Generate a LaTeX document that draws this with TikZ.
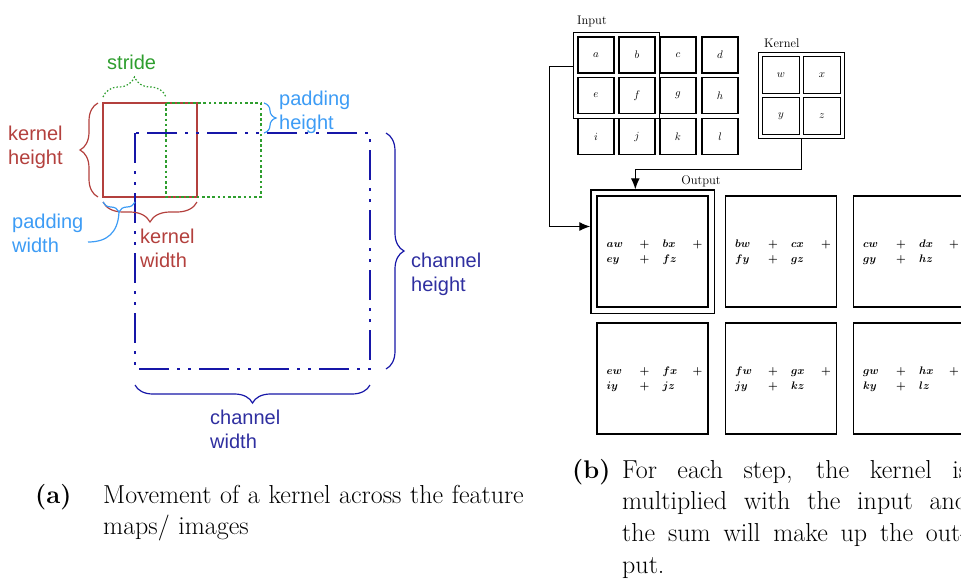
\documentclass[tikz,border=0pt]{standalone}
\usepackage{fontspec}
\newfontfamily\diagsans{Liberation Sans}
\usetikzlibrary{positioning,fit,arrows.meta,decorations.pathreplacing}

\definecolor{kred}{HTML}{B3403D}
\definecolor{sgreen}{HTML}{2E9E2E}
\definecolor{pblue}{HTML}{3D9CF5}
\definecolor{cblue}{HTML}{1717A8}
\definecolor{ctext}{HTML}{2F2FA0}

\tikzset{
  lbl/.style={font=\diagsans\fontsize{20}{24}\selectfont, align=left, inner sep=0pt, anchor=base west},
  brc/.style={decorate, decoration={brace, amplitude=#1}, line width=1.2pt},
  cell/.style={draw, line width=1.4pt, minimum size=36pt, inner sep=0pt, font=\fontsize{11}{12}\selectfont},
  kcell/.style={cell, minimum size=37pt},
  outbox/.style={draw, line width=1.2pt, minimum size=111pt, inner sep=0pt},
  sumtext/.style={font=\boldmath\fontsize{11}{15}\selectfont, inner sep=0pt, anchor=west},
  smalltitle/.style={font=\fontsize{12.5}{15}\selectfont, inner sep=0pt, anchor=base west},
  flow/.style={-{Latex[length=11pt,width=9pt]}, line width=1.2pt},
  capnum/.style={font=\bfseries\fontsize{25.5}{31.7}\selectfont, inner sep=0pt, anchor=base west},
  captext/.style={font=\fontsize{26}{31.7}\selectfont, inner sep=0pt, anchor=base west},
}

\begin{document}
\begin{tikzpicture}[x=1pt,y=-1pt]
    \useasboundingbox (0,0) rectangle (961,579);

    % (a) kernel moving over the channel
    \draw[kred, line width=2.6pt] (103,103) rectangle (197,197);
    \draw[sgreen, line width=2.6pt, dash pattern=on 2.6pt off 2.6pt] (166,103) rectangle (261,197);
    \draw[cblue, line width=2.8pt, dash pattern=on 30pt off 8pt on 3pt off 8pt on 3pt off 8pt] (135,133) rectangle (370,369);

    \draw[brc=20pt, sgreen, dash pattern=on 1.5pt off 2pt] (103,97) -- (166,97);
    \draw[brc=18pt, kred] (98,197) -- (98,103);
    \draw[brc=20pt, kred] (197,202) -- (103,202);
    \draw[brc=12pt, pblue] (264,103) -- (264,133);
    \draw[brc=10pt, pblue] (135,202) -- (103,202);
    \draw[brc=18pt, cblue] (386,133) -- (386,369);
    \draw[brc=18pt, cblue] (370,385) -- (135,385);
    \coordinate (pw-tip) at (119,212);
    \coordinate (pw-end) at (88,242);
    \draw[pblue, line width=1.2pt] (pw-tip) .. controls (118,233) and (107,242) .. (pw-end);

    \node[lbl, text=sgreen] (stride) at (107,69) {stride};
    \node[lbl, text=kred] (kheight) at (8,164) {kernel\\height};
    \node[lbl, text=kred] (kwidth) at (140,267) {kernel\\width};
    \node[lbl, text=pblue] (pheight) at (279,129) {padding\\height};
    \node[lbl, text=pblue] (pwidth) at (12,252) {padding\\width};
    \node[lbl, text=ctext] (cheight) at (411,291) {channel\\height};
    \node[lbl, text=ctext] (cwidth) at (210,448) {channel\\width};

    % (b) input, kernel and output
    \node[smalltitle] (inputlbl) at (577,24) {Input};
    \node[cell] (in-a) at (596,55) {\(a\)};
    \node[cell] (in-b) at (637,55) {\(b\)};
    \node[cell] (in-c) at (678,55) {\(c\)};
    \node[cell] (in-d) at (720,55) {\(d\)};
    \node[cell] (in-e) at (596,95.5) {\(e\)};
    \node[cell] (in-f) at (637,95.5) {\(f\)};
    \node[cell] (in-g) at (678,95.5) {\(g\)};
    \node[cell] (in-h) at (720,95.5) {\(h\)};
    \node[cell] (in-i) at (596,136.5) {\(i\)};
    \node[cell] (in-j) at (637,136.5) {\(j\)};
    \node[cell] (in-k) at (678,136.5) {\(k\)};
    \node[cell] (in-l) at (720,136.5) {\(l\)};
    \node[draw, line width=1.3pt, fit=(in-a)(in-f), inner sep=4pt] (in-box) {};

    \node[smalltitle] (kernellbl) at (764,47) {Kernel};
    \node[kcell] (k-w) at (781,75) {\(w\)};
    \node[kcell] (k-x) at (822,75) {\(x\)};
    \node[kcell] (k-y) at (781,116) {\(y\)};
    \node[kcell] (k-z) at (822,116) {\(z\)};
    \node[draw, line width=1.3pt, fit=(k-w)(k-z), inner sep=3.5pt] (k-box) {};

    \node[smalltitle, anchor=base] (outputlbl) at (701,184) {Output};
    \node[outbox] (o-abef) at (652.5,251.5) {};
    \node[outbox] (o-bcfg) at (781,251.5) {};
    \node[outbox] (o-cdgh) at (909,251.5) {};
    \node[outbox] (o-efij) at (652.5,378.5) {};
    \node[outbox] (o-fgjk) at (781,378.5) {};
    \node[outbox] (o-ghkl) at (909,378.5) {};
    \node[draw, line width=1.2pt, fit=(o-abef), inner sep=5.5pt] (o-frame) {};

    \node[sumtext] (s-abef) at ([xshift=10pt]o-abef.west) {\begin{tabular}{@{}p{33pt}@{}p{23pt}@{}p{30pt}@{}l@{}}\(aw\) & \(+\) & \(bx\) & \(+\)\\ \(ey\) & \(+\) & \(fz\) & \end{tabular}};
    \node[sumtext] (s-bcfg) at ([xshift=10pt]o-bcfg.west) {\begin{tabular}{@{}p{33pt}@{}p{23pt}@{}p{30pt}@{}l@{}}\(bw\) & \(+\) & \(cx\) & \(+\)\\ \(fy\) & \(+\) & \(gz\) & \end{tabular}};
    \node[sumtext] (s-cdgh) at ([xshift=10pt]o-cdgh.west) {\begin{tabular}{@{}p{33pt}@{}p{23pt}@{}p{30pt}@{}l@{}}\(cw\) & \(+\) & \(dx\) & \(+\)\\ \(gy\) & \(+\) & \(hz\) & \end{tabular}};
    \node[sumtext] (s-efij) at ([xshift=10pt]o-efij.west) {\begin{tabular}{@{}p{33pt}@{}p{23pt}@{}p{30pt}@{}l@{}}\(ew\) & \(+\) & \(fx\) & \(+\)\\ \(iy\) & \(+\) & \(jz\) & \end{tabular}};
    \node[sumtext] (s-fgjk) at ([xshift=10pt]o-fgjk.west) {\begin{tabular}{@{}p{33pt}@{}p{23pt}@{}p{30pt}@{}l@{}}\(fw\) & \(+\) & \(gx\) & \(+\)\\ \(jy\) & \(+\) & \(kz\) & \end{tabular}};
    \node[sumtext] (s-ghkl) at ([xshift=10pt]o-ghkl.west) {\begin{tabular}{@{}p{33pt}@{}p{23pt}@{}p{30pt}@{}l@{}}\(gw\) & \(+\) & \(hx\) & \(+\)\\ \(ky\) & \(+\) & \(lz\) & \end{tabular}};

    \draw[flow] (k-box.south) -- ++(0,30) -| ([xshift=45pt]o-frame.north west);
    \draw[flow] ([yshift=9pt]in-box.west) -- ++(-23,0) |- ([yshift=25pt]o-frame.west);

    % captions
    \node[capnum] (cap-a) at (35,503) {(a)};
    \node[captext, text width=440pt, align=left] (cap-a-text) at (103,503) {Movement of a kernel across the feature\\maps/ images};
    \node[capnum] (cap-b) at (572,478) {(b)};
    \node[captext, text width=346pt, align=justify] (cap-b-text) at (622,478) {For each step, the kernel is\linebreak multiplied with the input and\linebreak the sum will make up the out-\linebreak put.};
\end{tikzpicture}
\end{document}
